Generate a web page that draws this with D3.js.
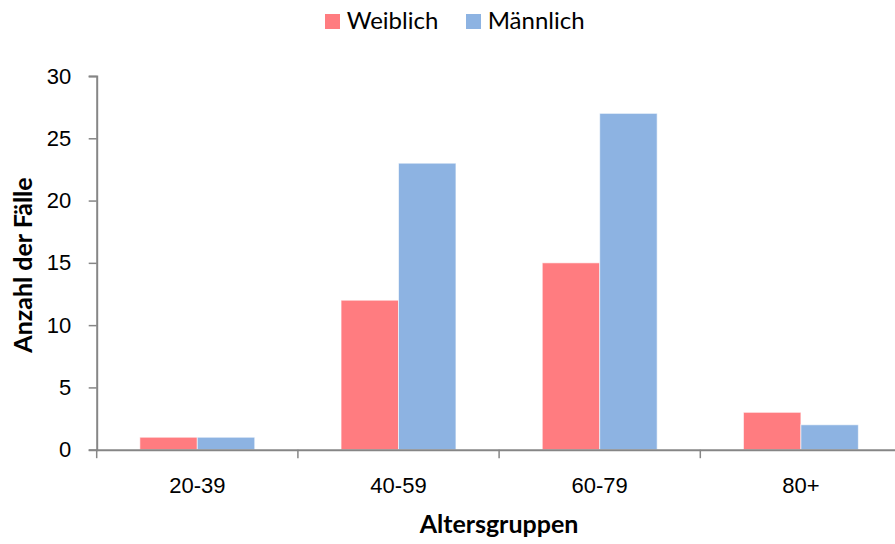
<!DOCTYPE html>
<html>
<head>
<meta charset="utf-8">
<script src="https://cdn.jsdelivr.net/npm/d3@7"></script>
<style>
  body { margin: 0; background: #fff; }
  svg { display: block; font-family: Lato, "Open Sans", sans-serif; }
</style>
</head>
<body>
<div id="chart"></div>
<script>
// Daten
const groups = ["20-39", "40-59", "60-79", "80+"];
const seriesNames = ["Weiblich", "Männlich"];
const weiblich = [1, 12, 15, 3];
const maennlich = [1, 23, 27, 2];
const yTicks = [0, 5, 10, 15, 20, 25, 30];
const colors = ["#FF7C80", "#8DB3E2"];

const width = 895, height = 544;
const plotLeft = 96.7, plotRight = 901.5, plotTop = 76, plotBottom = 449.7;

const svg = d3.select("#chart").append("svg")
    .attr("width", width)
    .attr("height", height);

const x = d3.scaleBand().domain(groups).range([plotLeft, plotRight]).padding(0);
const groupWidth = x.bandwidth() * 0.571;
const x1 = d3.scaleBand().domain(seriesNames)
    .range([(x.bandwidth() - groupWidth) / 2, (x.bandwidth() + groupWidth) / 2]);
const y = d3.scaleLinear().domain([0, 30]).range([plotBottom, plotTop]);

const axisColor = "#868686";

// Balken
const rows = groups.map((g, i) => ({ group: g, values: [weiblich[i], maennlich[i]] }));
svg.append("g").selectAll("g")
    .data(rows)
    .join("g")
    .attr("transform", d => `translate(${x(d.group)},0)`)
    .selectAll("rect")
    .data(d => d.values.map((v, j) => ({ name: seriesNames[j], value: v, color: colors[j] })))
    .join("rect")
    .attr("x", d => x1(d.name))
    .attr("width", x1.bandwidth())
    .attr("y", d => y(d.value))
    .attr("height", d => y(0) - y(d.value))
    .attr("fill", d => d.color)
    .attr("stroke", "rgba(255,255,255,0.6)")
    .attr("stroke-width", 1);

// Y-Achse
const yAxis = svg.append("g")
    .attr("transform", `translate(${plotLeft},0)`)
    .call(d3.axisLeft(y).tickValues(yTicks).tickSize(8).tickPadding(17.5));
yAxis.select(".domain").attr("stroke", axisColor).attr("stroke-width", 2);
yAxis.selectAll(".tick line").attr("stroke", axisColor).attr("stroke-width", 1.5);
yAxis.selectAll(".tick text")
    .attr("fill", "#000")
    .style("font-size", "22px");

// X-Achse
const xAxis = svg.append("g")
    .attr("transform", `translate(0,${plotBottom})`)
    .call(d3.axisBottom(x).tickSize(0));
xAxis.select(".domain").attr("stroke", axisColor).attr("stroke-width", 2);
xAxis.selectAll(".tick text")
    .attr("fill", "#000")
    .attr("y", 43)
    .attr("dy", null)
    .style("font-size", "22px");
// Teilstriche an den Kategoriegrenzen
const bounds = groups.map(g => x(g)).concat([x(groups[groups.length - 1]) + x.bandwidth()]);
xAxis.selectAll(".bound")
    .data(bounds)
    .join("line")
    .attr("class", "bound")
    .attr("x1", d => d).attr("x2", d => d)
    .attr("y1", 0).attr("y2", 8.5)
    .attr("stroke", axisColor)
    .attr("stroke-width", 1.5);

// Achsentitel
svg.append("text")
    .attr("x", 499)
    .attr("y", 533)
    .attr("text-anchor", "middle")
    .style("font-size", "25px")
    .style("font-weight", "bold")
    .text("Altersgruppen");

svg.append("text")
    .attr("transform", "translate(32,265) rotate(-90)")
    .attr("text-anchor", "middle")
    .style("font-size", "25px")
    .style("font-weight", "bold")
    .text("Anzahl der Fälle");

// Legende
const legend = svg.append("g");
const legendItems = [
    { name: seriesNames[0], color: colors[0], x: 325 },
    { name: seriesNames[1], color: colors[1], x: 466 }
];
legendItems.forEach(it => {
    legend.append("rect")
        .attr("x", it.x).attr("y", 14)
        .attr("width", 15).attr("height", 15)
        .attr("fill", it.color);
    legend.append("text")
        .attr("x", it.x + 21.7).attr("y", 28.5)
        .style("font-size", "24px")
        .text(it.name);
});
</script>
</body>
</html>
